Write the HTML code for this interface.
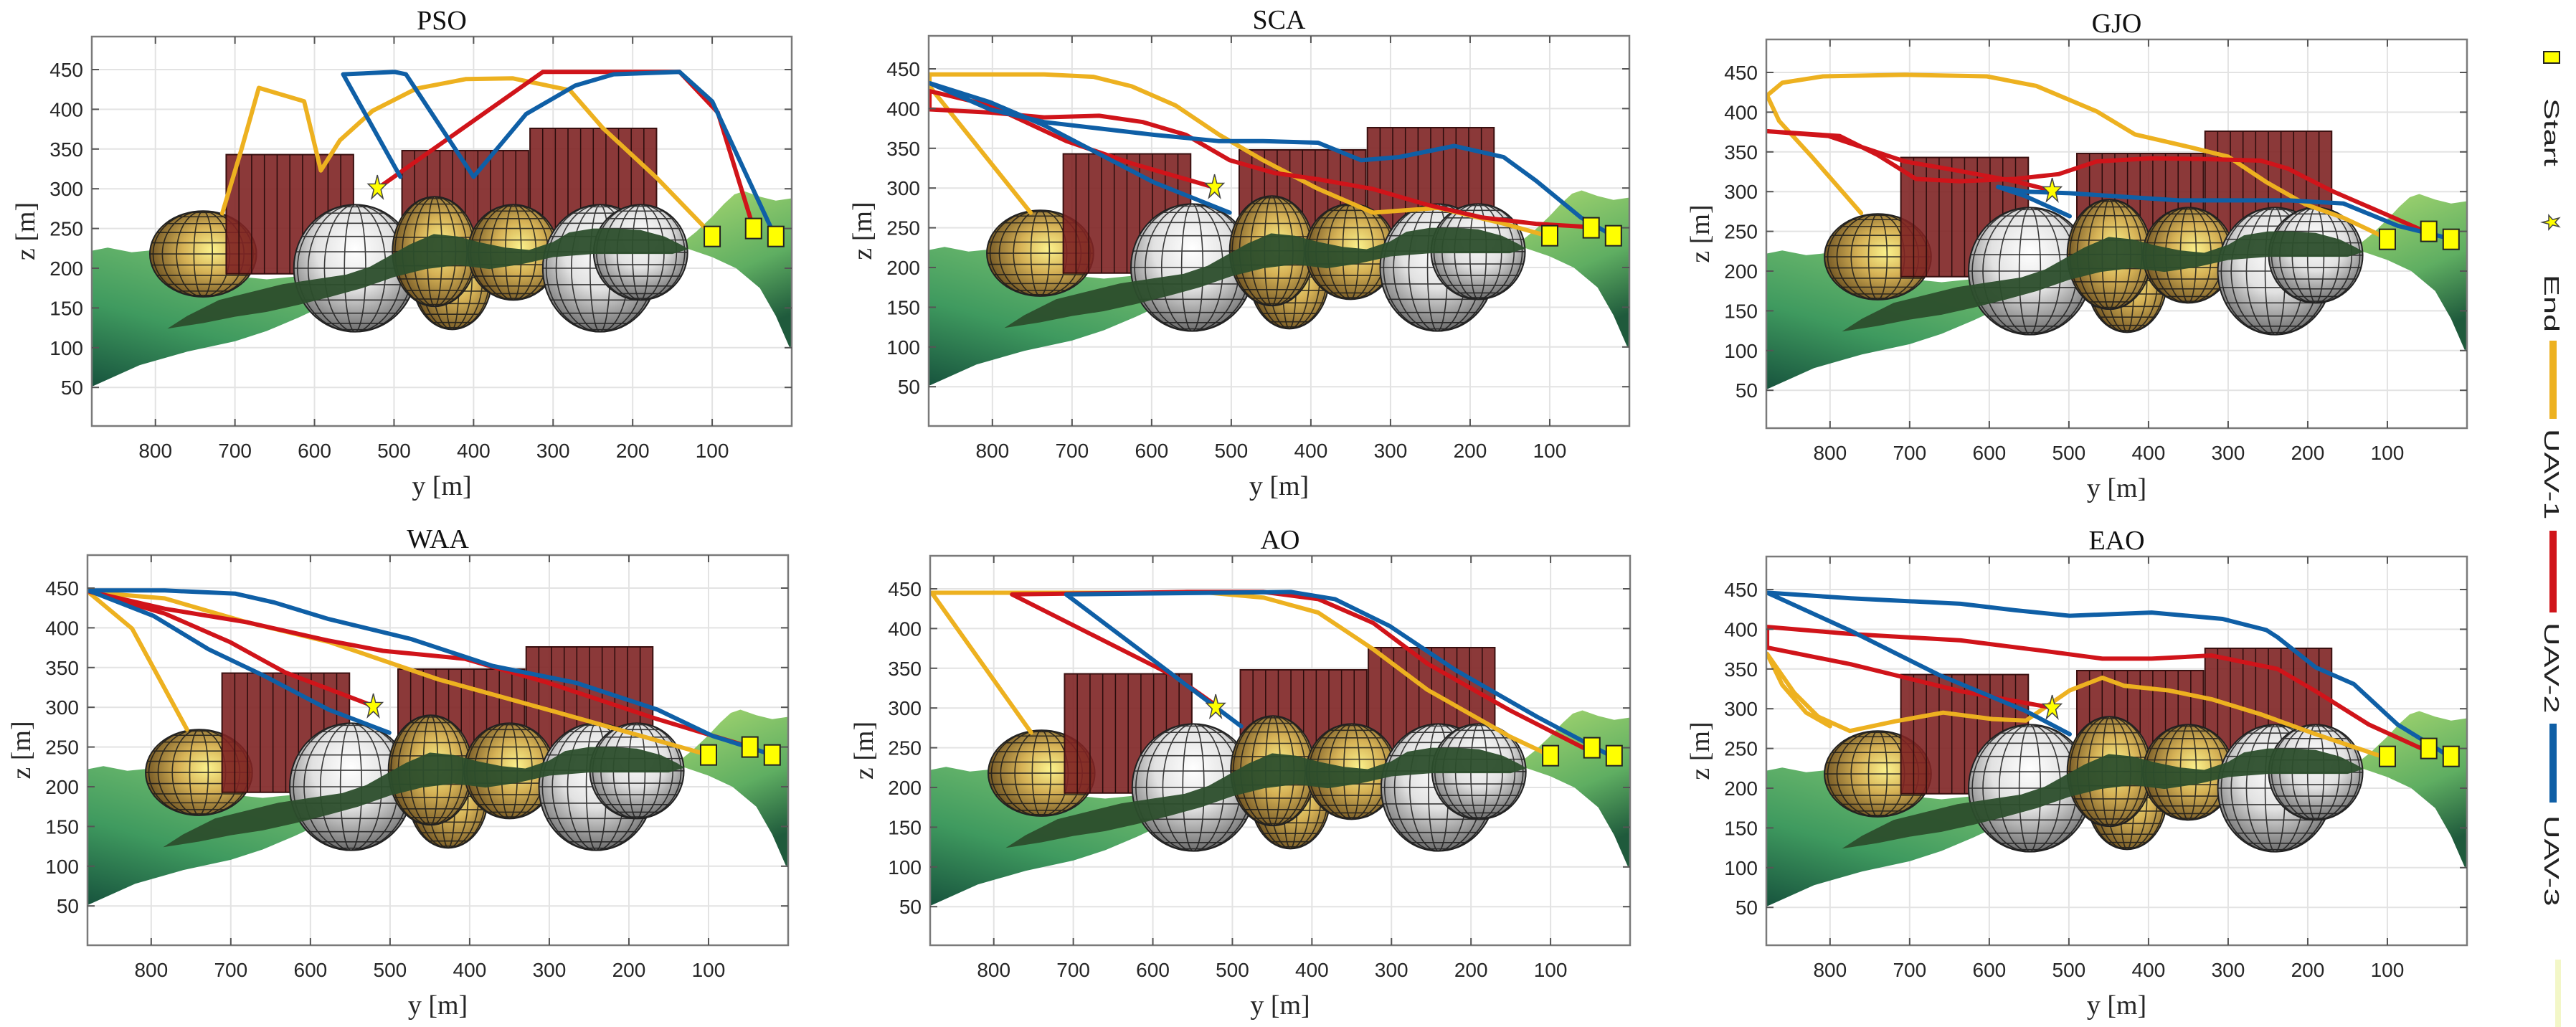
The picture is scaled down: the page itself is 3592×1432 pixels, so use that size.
<!DOCTYPE html>
<html>
<head>
<meta charset="utf-8">
<style>
  html,body{margin:0;padding:0;background:#fff;}
  svg{display:block;}
  .tick{font-family:"Liberation Sans",sans-serif;font-size:28px;fill:#262626;}
  .ttl{font-family:"Liberation Serif",serif;font-size:38px;fill:#111;}
  .lab{font-family:"Liberation Serif",serif;font-size:38px;fill:#262626;}
  .leg{font-family:"Liberation Sans",sans-serif;font-size:29px;fill:#222;}
</style>
</head>
<body>
<svg id="fig" width="3592" height="1432" viewBox="0 0 3592 1432" xmlns="http://www.w3.org/2000/svg">
  <defs>
    <radialGradient id="gold" cx="0.58" cy="0.45" r="0.6">
      <stop offset="0" stop-color="#fbf28c"/>
      <stop offset="0.45" stop-color="#d6b256"/>
      <stop offset="1" stop-color="#6e5222"/>
    </radialGradient>
    <radialGradient id="silver" cx="0.5" cy="0.35" r="0.7">
      <stop offset="0" stop-color="#ffffff"/>
      <stop offset="0.45" stop-color="#e2e2e2"/>
      <stop offset="1" stop-color="#5a5a5a"/>
    </radialGradient>
    <linearGradient id="terrL" x1="0" y1="1" x2="0.6" y2="0">
      <stop offset="0" stop-color="#17533d"/>
      <stop offset="0.45" stop-color="#3f9a5f"/>
      <stop offset="1" stop-color="#79c170"/>
    </linearGradient>
    <linearGradient id="terrR" x1="0" y1="0" x2="0.3" y2="1">
      <stop offset="0" stop-color="#a8d870"/>
      <stop offset="0.6" stop-color="#5fae62"/>
      <stop offset="1" stop-color="#1f5a3c"/>
    </linearGradient>
  </defs>
</svg>
<script>
// ---------- shared scene data (y [m], z [m]) ----------
const xTicks = [800, 700, 600, 500, 400, 300, 200, 100];
const zTicks = [50, 100, 150, 200, 250, 300, 350, 400, 450];
const panelTitles = ["PSO", "SCA", "GJO", "WAA", "AO", "EAO"];
const startPoints = [[100, 240], [48, 250], [20, 240]];
const endPoint = [521, 301];
// boxes: [yMax, yMin, zBottom, zTop]
const boxes = [[711, 551, 193, 343], [490, 331, 198, 348], [329, 170, 226, 376]];
// spheres: [yCenter, zCenter, ry(y units), rz(z units), kind]
const spheresBack = [[740, 218, 67, 54, "gold"]];
const spheresFront = [[549, 200, 77, 80, "silver"], [427, 188, 50, 65, "gold"], [449, 221, 53, 69, "gold"],
                      [350, 220, 57, 60, "gold"], [241, 200, 72, 80, "silver"], [190, 220, 59, 60, "silver"]];
const terrainLeft = [[880,222],[860,226],[830,220],[800,223],[770,214],[740,200],[700,190],[660,186],[620,190],[580,198],[540,206],[513,205],
                     [530,195],[560,175],[590,152],[620,138],[660,121],[700,108],[760,95],[820,78],[880,51]];
const terrainRight = [[140,230],[120,246],[100,265],[85,281],[72,293],[60,297],[40,290],[20,285],[0,288],
                      [0,101],[3,101],[20,140],[40,175],[70,200],[100,214],[135,226]];
const ridge = [[785,124],[760,140],[720,160],[680,170],[640,180],[600,186],[560,192],[530,202],[505,216],[480,230],[450,243],[420,240],[390,232],
               [360,226],[330,223],[300,233],[280,245],[250,250],[220,250],[190,248],[160,240],[140,230],[130,224],
               [150,218],[200,218],[250,218],[300,214],[340,205],[380,199],[420,204],[460,199],[500,189],[540,175],[580,164],[620,154],[660,145],[700,139],[740,131]];

// ---------- trajectories per panel ----------
const psoUav1 = [[110,252],[169,313],[238,377],[279,424],[351,439],[410,438],[472,426],[527,398],[568,361],[592,323],[613,410],[670,427],[692,349],[716,269]];
const psoUav2 = [[48,250],[93,396],[141,447],[313,447],[520,301]];
const psoUav3 = [[21,240],[100,410],[141,447],[224,444],[272,430],[334,394],[400,315],[485,444],[499,447],[564,444],[492,315]];

const scaUav1 = [[100,239],[157,255],[240,275],[322,269],[391,299],[460,335],[515,367],[570,404],[625,428],[673,440],[735,443],[879,443],[879,428],[752,269]];
const scaUav2 = [[51,251],[117,255],[185,263],[254,279],[323,299],[391,311],[446,319],[502,335],[557,367],[611,383],[666,391],[735,389],[803,395],[879,399],[879,422],[803,404],[707,359],[625,331],[522,301]];
const scaUav3 = [[19,239],[61,263],[117,309],[158,339],[220,353],[289,339],[337,335],[391,357],[460,359],[515,359],[597,367],[666,375],[735,383],[803,399],[879,432],[803,408],[735,379],[666,343],[597,307],[502,269]];

const gjoUav1 = [[100,241],[155,267],[203,284],[252,312],[300,344],[348,356],[417,372],[465,401],[541,433],[603,445],[706,447],[809,445],[860,437],[879,421],[864,389],[823,344],[761,273]];
const gjoUav2 = [[53,250],[101,271],[170,301],[225,329],[259,339],[328,341],[397,342],[465,338],[513,322],[568,316],[637,313],[692,316],[740,346],[788,370],[879,376],[802,370],[754,354],[706,338],[637,326],[568,313],[520,301]];
const gjoUav3 = [[22,241],[87,257],[155,285],[224,289],[362,289],[499,298],[554,300],[589,306],[554,294],[499,269]];

const waaUav1 = [[100,240],[199,268],[302,297],[439,335],[576,382],[680,407],[783,437],[879,445],[824,399],[755,272]];
const waaUav2 = [[51,251],[164,285],[302,331],[406,361],[509,371],[578,384],[680,407],[783,424],[879,446],[783,418],[701,382],[632,344],[522,302]];
const waaUav3 = [[19,240],[95,264],[164,297],[267,331],[371,352],[474,386],[577,411],[646,432],[694,443],[783,447],[879,447],[797,415],[728,373],[659,340],[577,297],[501,268]];

const aoUav1 = [[100,240],[151,264],[255,323],[323,374],[392,420],[461,439],[529,445],[878,445],[753,269]];
const aoUav2 = [[55,248],[151,297],[255,356],[323,407],[392,437],[461,446],[557,446],[777,443],[571,339],[523,305]];
const aoUav3 = [[21,238],[117,289],[220,348],[302,403],[371,437],[426,446],[709,443],[578,344],[489,277]];

const eaoUav1 = [[107,240],[190,268],[259,293],[321,312],[375,323],[431,329],[458,339],[499,323],[554,285],[596,287],[658,295],[719,284],[775,272],[815,290],[845,320],[879,369],[860,330],[830,295],[800,278]];
const eaoUav2 = [[53,248],[123,280],[190,322],[238,350],[321,367],[396,363],[458,363],[533,373],[636,386],[774,394],[879,403],[879,377],[774,356],[705,339],[636,322],[520,301]];
const eaoUav3 = [[22,240],[87,280],[142,331],[190,352],[238,390],[252,399],[307,413],[396,421],[499,417],[568,424],[636,432],[774,439],[879,446],[774,398],[664,343],[554,297],[499,268]];

const panelSeries = [
  [psoUav1, psoUav2, psoUav3], [scaUav1, scaUav2, scaUav3], [gjoUav1, gjoUav2, gjoUav3],
  [waaUav1, waaUav2, waaUav3], [aoUav1, aoUav2, aoUav3], [eaoUav1, eaoUav2, eaoUav3]
];
const seriesColors = ["#edb120", "#d0141a", "#0f5fa6"];
const seriesNames = ["UAV-1", "UAV-2", "UAV-3"];

// panel geometry (layout, not data)
const panelBoxes = [
  {L:128, R:1104, T:51, B:594}, {L:1295, R:2272, T:50, B:594}, {L:2463, R:3440, T:55, B:597},
  {L:122, R:1099, T:774, B:1318}, {L:1297, R:2273, T:775, B:1318}, {L:2463, R:3440, T:776, B:1318}
];
const Y_MAX = 880, Y_MIN = 0, Z_PER_PX = 1.108;

const NS = "http://www.w3.org/2000/svg";
const svg = document.getElementById("fig");
function mk(tag, attrs, parent) {
  const e = document.createElementNS(NS, tag);
  for (const k in attrs) e.setAttribute(k, attrs[k]);
  (parent || svg).appendChild(e);
  return e;
}

panelBoxes.forEach((pb, pi) => {
  const xs = v => pb.L + (Y_MAX - v) * (pb.R - pb.L) / (Y_MAX - Y_MIN);
  const kx = (pb.R - pb.L) / (Y_MAX - Y_MIN);
  const z450 = pb.T + 46;
  const zs = v => z450 + (450 - v) * Z_PER_PX;
  const pts = arr => arr.map(p => xs(p[0]).toFixed(1) + "," + zs(p[1]).toFixed(1)).join(" ");

  const g = mk("g", {});
  
  

  const cid = "clip" + pi;
  const cp = mk("clipPath", {id: cid}, g);
  mk("rect", {x: pb.L, y: pb.T, width: pb.R - pb.L, height: pb.B - pb.T}, cp);

  const bg = mk("rect", {x: pb.L, y: pb.T, width: pb.R - pb.L, height: pb.B - pb.T, fill: "#fff"}, g);
  
  
  const grid = mk("g", {stroke: "#e3e3e3", "stroke-width": 2}, g);
  
  
  xTicks.forEach(t => mk("line", {x1: xs(t), x2: xs(t), y1: pb.T, y2: pb.B}, grid));
  zTicks.forEach(t => mk("line", {x1: pb.L, x2: pb.R, y1: zs(t), y2: zs(t)}, grid));

  const scene = mk("g", {"clip-path": "url(#" + cid + ")"}, g);
  
  

  const tl = mk("polygon", {points: pts(terrainLeft), fill: "url(#terrL)"}, scene);
  
  
  const tr = mk("polygon", {points: pts(terrainRight), fill: "url(#terrR)"}, scene);
  
  

  function sphere(s, si, tag) {
    const cx = xs(s[0]), cy = zs(s[1]), rx = s[2] * kx, ry = s[3] * Z_PER_PX;
    const sg = mk("g", {}, scene);
    
    
    const sc = mk("clipPath", {id: "sc" + pi + tag + si}, sg);
    mk("ellipse", {cx: cx, cy: cy, rx: rx, ry: ry}, sc);
    mk("ellipse", {cx: cx, cy: cy, rx: rx, ry: ry, fill: s[4] === "gold" ? "url(#gold)" : "url(#silver)"}, sg);
    const lines = mk("g", {"clip-path": "url(#sc" + pi + tag + si + ")", stroke: "#1a1a1a", "stroke-width": 1.6, fill: "none", opacity: 0.85}, sg);
    for (let a = -75; a <= 75; a += 15) {
      const yy = cy + ry * Math.sin(a * Math.PI / 180);
      mk("line", {x1: cx - rx, x2: cx + rx, y1: yy, y2: yy}, lines);
    }
    for (let a = 10; a <= 90; a += 20) {
      mk("ellipse", {cx: cx, cy: cy, rx: rx * Math.sin(a * Math.PI / 180), ry: ry}, lines);
    }
    mk("ellipse", {cx: cx, cy: cy, rx: rx, ry: ry, fill: "none", stroke: "#222", "stroke-width": 2}, sg);
  }
  spheresBack.forEach((s, si) => sphere(s, si, "back"));

  boxes.forEach((b, bi) => {
    const bg2 = mk("g", {}, scene);
    
    
    const x1 = xs(b[0]), x2 = xs(b[1]), y1 = zs(b[3]), y2 = zs(b[2]);
    mk("rect", {x: x1, y: y1, width: x2 - x1, height: y2 - y1, fill: "#7e2424", "fill-opacity": 0.9, stroke: "#3a1010", "stroke-width": 2}, bg2);
    const n = 10;
    for (let i = 1; i < n; i++) {
      const xx = x1 + (x2 - x1) * i / n;
      mk("line", {x1: xx, x2: xx, y1: y1, y2: y2, stroke: "#2a0c0c", "stroke-width": 1.5}, bg2);
    }
  });

  spheresFront.forEach((s, si) => sphere(s, si, "front"));

  const rd = mk("polygon", {points: pts(ridge), fill: "#2c4e2c", "fill-opacity": 0.95}, scene);
  
  

  panelSeries[pi].forEach((ser, k) => {
    const pl = mk("polyline", {points: pts(ser), fill: "none", stroke: seriesColors[k], "stroke-width": 6, "stroke-linejoin": "round", "stroke-linecap": "round"}, scene);
    
    
  });

  startPoints.forEach((p, k) => {
    const r = mk("rect", {x: xs(p[0]) - 11, y: zs(p[1]) - 14, width: 22, height: 28, fill: "#ffff00", stroke: "#222", "stroke-width": 2}, g);
    
    
  });
  const ex = xs(endPoint[0]), ey = zs(endPoint[1]);
  let sp = [];
  for (let i = 0; i < 10; i++) {
    const r = i % 2 === 0 ? 18 : 7, a = -Math.PI / 2 + i * Math.PI / 5;
    sp.push((ex + r * Math.cos(a) * 0.75).toFixed(1) + "," + (ey + r * Math.sin(a)).toFixed(1));
  }
  const st = mk("polygon", {points: sp.join(" "), fill: "#ffff00", stroke: "#444", "stroke-width": 1.5}, g);
  
  

  const ax = mk("rect", {x: pb.L, y: pb.T, width: pb.R - pb.L, height: pb.B - pb.T, fill: "none", stroke: "#7a7a7a", "stroke-width": 2.5}, g);
  
  
  const tk = mk("g", {stroke: "#555", "stroke-width": 2}, g);
  
  
  xTicks.forEach(t => {
    mk("line", {x1: xs(t), x2: xs(t), y1: pb.B, y2: pb.B - 10}, tk);
    mk("line", {x1: xs(t), x2: xs(t), y1: pb.T, y2: pb.T + 10}, tk);
  });
  zTicks.forEach(t => {
    mk("line", {x1: pb.L, x2: pb.L + 10, y1: zs(t), y2: zs(t)}, tk);
    mk("line", {x1: pb.R, x2: pb.R - 10, y1: zs(t), y2: zs(t)}, tk);
  });
  xTicks.forEach(t => {
    const tx = mk("text", {x: xs(t), y: pb.B + 44, "text-anchor": "middle", class: "tick"}, g);
    tx.textContent = t;
    
    
  });
  zTicks.forEach(t => {
    const tx = mk("text", {x: pb.L - 12, y: zs(t) + 10, "text-anchor": "end", class: "tick"}, g);
    tx.textContent = t;
    
    
  });
  const ti = mk("text", {x: (pb.L + pb.R) / 2, y: pb.T - 10, "text-anchor": "middle", class: "ttl"}, g);
  ti.textContent = panelTitles[pi];
  
  
  const xl = mk("text", {x: (pb.L + pb.R) / 2, y: pb.B + 96, "text-anchor": "middle", class: "lab"}, g);
  xl.textContent = "y [m]";
  
  
  const cyl = (pb.T + pb.B) / 2;
  const zl = mk("text", {x: pb.L - 80, y: cyl, "text-anchor": "middle", class: "lab", transform: "rotate(-90 " + (pb.L - 80) + " " + cyl + ")"}, g);
  zl.textContent = "z [m]";
  
  
});

// ---------- legend ----------
const lg = mk("g", {});


const lx = 3558;
const ls = mk("rect", {x: lx - 11, y: 72, width: 22, height: 16, fill: "#ffff00", stroke: "#222", "stroke-width": 2}, lg);


const legendTexts = [["Start", 137], ["End", 383], ["UAV-1", 598], ["UAV-2", 868], ["UAV-3", 1137]];
legendTexts.forEach(t => {
  const tx = mk("text", {x: 0, y: 0, class: "leg", transform: "translate(" + (lx - 10) + " " + t[1] + ") rotate(90) scale(1.55 1)"}, lg);
  tx.textContent = t[0];
  
  
});
let lsp = [];
for (let i = 0; i < 10; i++) {
  const r = i % 2 === 0 ? 13 : 5, a = -Math.PI + i * Math.PI / 5;
  lsp.push((lx + r * Math.cos(a)).toFixed(1) + "," + (310 + r * Math.sin(a) * 0.8).toFixed(1));
}
const lst = mk("polygon", {points: lsp.join(" "), fill: "#ffff00", stroke: "#444", "stroke-width": 1.5}, lg);


const legendLines = [[475, 584], [740, 854], [1009, 1119]];
legendLines.forEach((l, k) => {
  const ln = mk("line", {x1: lx + 2, x2: lx + 2, y1: l[0], y2: l[1], stroke: seriesColors[k], "stroke-width": 10}, lg);
  
  
});
const fl = mk("line", {x1: 3567, x2: 3567, y1: 1338, y2: 1432, stroke: "#f3f7c8", "stroke-width": 8}, lg);


</script>
</body>
</html>
